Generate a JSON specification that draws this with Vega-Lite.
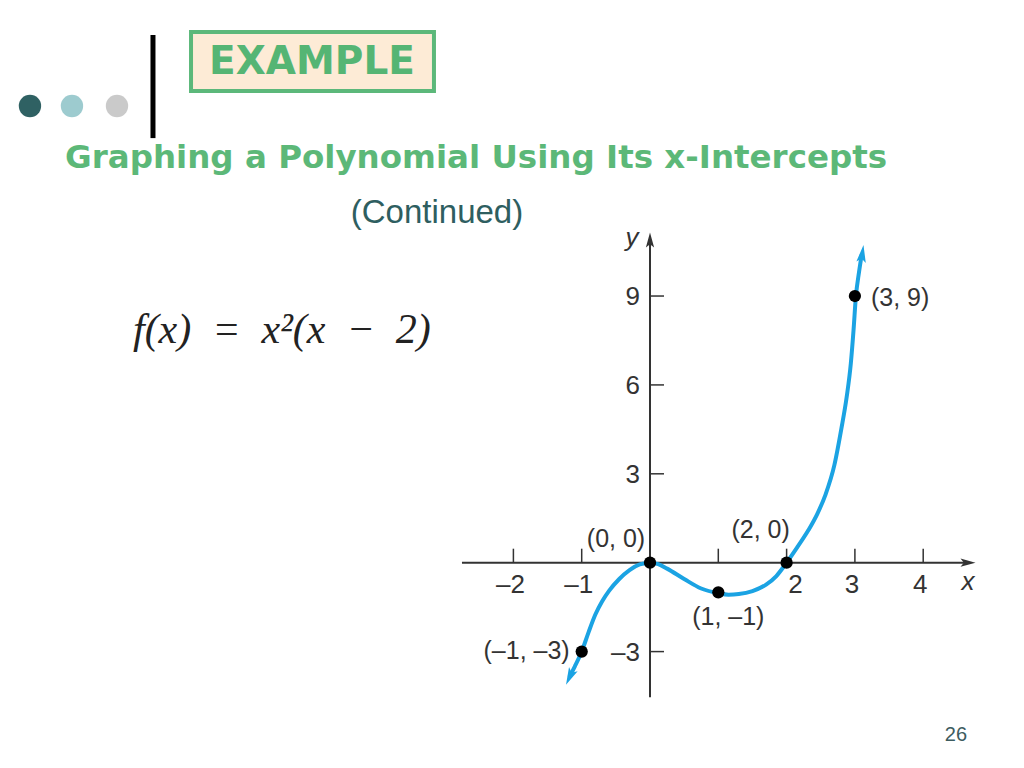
{
  "$schema": "https://vega.github.io/schema/vega-lite/v6.json",
  "description": "Slide: graphing f(x) = x^2(x - 2) using its x-intercepts.",
  "width": 1024,
  "height": 768,
  "autosize": {"type": "fit", "contains": "padding"},
  "padding": 0,
  "background": "white",
  "config": {"view": {"stroke": null}},
  "datasets": {
    "curve": [
      {"x": -1.18, "y": -3.86}, {"x": -1.1, "y": -3.5}, {"x": -1.0, "y": -3.0},
      {"x": -0.9, "y": -2.35}, {"x": -0.8, "y": -1.75}, {"x": -0.7, "y": -1.3},
      {"x": -0.6, "y": -0.95}, {"x": -0.45, "y": -0.55}, {"x": -0.3, "y": -0.25},
      {"x": -0.15, "y": -0.06}, {"x": 0, "y": 0}, {"x": 0.12, "y": -0.05},
      {"x": 0.25, "y": -0.2}, {"x": 0.5, "y": -0.55}, {"x": 0.75, "y": -0.87},
      {"x": 1.0, "y": -1.03}, {"x": 1.15, "y": -1.08}, {"x": 1.3, "y": -1.06},
      {"x": 1.5, "y": -0.96}, {"x": 1.7, "y": -0.74}, {"x": 1.85, "y": -0.45},
      {"x": 2.0, "y": 0}, {"x": 2.15, "y": 0.5}, {"x": 2.32, "y": 1.1},
      {"x": 2.45, "y": 1.65}, {"x": 2.57, "y": 2.3}, {"x": 2.7, "y": 3.3},
      {"x": 2.8, "y": 4.5}, {"x": 2.88, "y": 5.6}, {"x": 2.94, "y": 6.72},
      {"x": 2.98, "y": 7.85}, {"x": 3.015, "y": 9.0}, {"x": 3.06, "y": 9.8},
      {"x": 3.1, "y": 10.4}
    ],
    "pts": [
      {"x": -1, "y": -3, "label": "(–1, –3)"},
      {"x": 0, "y": 0, "label": "(0, 0)"},
      {"x": 1, "y": -1, "label": "(1, –1)"},
      {"x": 2, "y": 0, "label": "(2, 0)"},
      {"x": 3, "y": 9, "label": "(3, 9)"}
    ],
    "xticks": [
      {"v": -2, "lab": "–2"}, {"v": -1, "lab": "–1"}, {"v": 1, "lab": ""},
      {"v": 2, "lab": "2"}, {"v": 3, "lab": "3"}, {"v": 4, "lab": "4"}
    ],
    "yticks": [
      {"v": -3, "lab": "–3"}, {"v": 3, "lab": "3"}, {"v": 6, "lab": "6"}, {"v": 9, "lab": "9"}
    ]
  },
  "layer": [
    {
      "data": {"values": [{}]},
      "mark": {"type": "rect", "fill": "#fdebd6", "stroke": "#5cb87a", "strokeWidth": 4},
      "encoding": {
        "x": {"datum": -6.72, "type": "quantitative", "axis": null, "scale": {"domain": [-9.5168, 5.4758], "nice": false, "zero": false}},
        "x2": {"datum": -3.163},
        "y": {"datum": 17.911, "type": "quantitative", "axis": null, "scale": {"domain": [-6.9288, 18.9909], "nice": false, "zero": false}},
        "y2": {"datum": 15.919}
      }
    },
    {
      "data": {"values": [{"t": "EXAMPLE"}]},
      "mark": {"type": "text", "font": "DejaVu Sans", "fontWeight": "bold", "fontSize": 39, "color": "#55b574", "align": "center", "baseline": "middle"},
      "encoding": {
        "x": {"datum": -4.949, "type": "quantitative", "axis": null},
        "y": {"datum": 16.898, "type": "quantitative", "axis": null},
        "text": {"field": "t"}
      }
    },
    {
      "data": {"values": [{}]},
      "mark": {"type": "rule", "color": "black", "strokeWidth": 5},
      "encoding": {
        "x": {"datum": -7.277, "type": "quantitative", "axis": null},
        "y": {"datum": 17.81, "type": "quantitative", "axis": null},
        "y2": {"datum": 14.33}
      }
    },
    {
      "data": {"values": [{}]},
      "mark": {"type": "point", "filled": true, "opacity": 1, "size": 500, "color": "#2f6163"},
      "encoding": {
        "x": {"datum": -9.078, "type": "quantitative", "axis": null},
        "y": {"datum": 15.413, "type": "quantitative", "axis": null}
      }
    },
    {
      "data": {"values": [{}]},
      "mark": {"type": "point", "filled": true, "opacity": 1, "size": 500, "color": "#9dcbcf"},
      "encoding": {
        "x": {"datum": -8.463, "type": "quantitative", "axis": null},
        "y": {"datum": 15.413, "type": "quantitative", "axis": null}
      }
    },
    {
      "data": {"values": [{}]},
      "mark": {"type": "point", "filled": true, "opacity": 1, "size": 500, "color": "#cacaca"},
      "encoding": {
        "x": {"datum": -7.804, "type": "quantitative", "axis": null},
        "y": {"datum": 15.413, "type": "quantitative", "axis": null}
      }
    },
    {
      "data": {"values": [{"t": "Graphing a Polynomial Using Its x-Intercepts"}]},
      "mark": {"type": "text", "font": "DejaVu Sans", "fontWeight": "bold", "fontSize": 32.5, "color": "#5cb878", "align": "left", "baseline": "middle"},
      "encoding": {
        "x": {"datum": -8.565, "type": "quantitative", "axis": null},
        "y": {"datum": 13.658, "type": "quantitative", "axis": null},
        "text": {"field": "t"}
      }
    },
    {
      "data": {"values": [{"t": "(Continued)"}]},
      "mark": {"type": "text", "font": "Liberation Sans", "fontSize": 33, "color": "#2e5e60", "align": "center", "baseline": "middle"},
      "encoding": {
        "x": {"datum": -3.119, "type": "quantitative", "axis": null},
        "y": {"datum": 11.8, "type": "quantitative", "axis": null},
        "text": {"field": "t"}
      }
    },
    {
      "data": {"values": [{"t": "f(x)\u2002=\u2002x²(x\u2002−\u20022)"}]},
      "mark": {"type": "text", "font": "Liberation Serif", "fontStyle": "italic", "fontSize": 42, "color": "#222222", "align": "left", "baseline": "middle"},
      "encoding": {
        "x": {"datum": -7.57, "type": "quantitative", "axis": null},
        "y": {"datum": 7.853, "type": "quantitative", "axis": null},
        "text": {"field": "t"}
      }
    },
    {
      "data": {"values": [{"t": "26"}]},
      "mark": {"type": "text", "font": "Liberation Sans", "fontSize": 20, "color": "#3d5c60", "align": "center", "baseline": "middle"},
      "encoding": {
        "x": {"datum": 4.48, "type": "quantitative", "axis": null},
        "y": {"datum": -5.814, "type": "quantitative", "axis": null},
        "text": {"field": "t"}
      }
    },
    {
      "data": {"values": [{}]},
      "mark": {"type": "rule", "color": "#333333", "strokeWidth": 2},
      "encoding": {
        "x": {"datum": -2.753, "type": "quantitative", "axis": null},
        "x2": {"datum": 4.62},
        "y": {"datum": 0, "type": "quantitative", "axis": null}
      }
    },
    {
      "data": {"values": [{}]},
      "mark": {"type": "rule", "color": "#333333", "strokeWidth": 2},
      "encoding": {
        "x": {"datum": 0, "type": "quantitative", "axis": null},
        "y": {"datum": -4.54, "type": "quantitative", "axis": null},
        "y2": {"datum": 10.8}
      }
    },
    {
      "data": {"name": "xticks"},
      "mark": {"type": "rule", "color": "#333333", "strokeWidth": 1.5},
      "encoding": {
        "x": {"field": "v", "type": "quantitative", "axis": null},
        "y": {"datum": 0, "type": "quantitative", "axis": null},
        "y2": {"datum": 0.4725}
      }
    },
    {
      "data": {"name": "xticks"},
      "transform": [{"filter": "datum.v != 2"}],
      "mark": {"type": "text", "font": "Liberation Sans", "fontSize": 26, "color": "#333333", "align": "center", "baseline": "middle", "dy": 22, "dx": -3},
      "encoding": {
        "x": {"field": "v", "type": "quantitative", "axis": null},
        "y": {"datum": 0, "type": "quantitative", "axis": null},
        "text": {"field": "lab"}
      }
    },
    {
      "data": {"name": "xticks"},
      "transform": [{"filter": "datum.v == 2"}],
      "mark": {"type": "text", "font": "Liberation Sans", "fontSize": 26, "color": "#333333", "align": "center", "baseline": "middle", "dy": 22, "dx": 9},
      "encoding": {
        "x": {"field": "v", "type": "quantitative", "axis": null},
        "y": {"datum": 0, "type": "quantitative", "axis": null},
        "text": {"field": "lab"}
      }
    },
    {
      "data": {"name": "yticks"},
      "mark": {"type": "rule", "color": "#333333", "strokeWidth": 1.5},
      "encoding": {
        "y": {"field": "v", "type": "quantitative", "axis": null},
        "x": {"datum": 0, "type": "quantitative", "axis": null},
        "x2": {"datum": 0.205}
      }
    },
    {
      "data": {"name": "yticks"},
      "mark": {"type": "text", "font": "Liberation Sans", "fontSize": 26, "color": "#333333", "align": "right", "baseline": "middle", "dx": -10, "dy": 1},
      "encoding": {
        "y": {"field": "v", "type": "quantitative", "axis": null},
        "x": {"datum": 0, "type": "quantitative", "axis": null},
        "text": {"field": "lab"}
      }
    },
    {
      "data": {"values": [{}]},
      "mark": {"type": "point", "shape": "M0,-1L0.55,1L0,0.55L-0.55,1Z", "filled": true, "opacity": 1, "size": 225, "color": "#333333", "angle": 90},
      "encoding": {
        "x": {"datum": 4.656, "type": "quantitative", "axis": null},
        "y": {"datum": 0, "type": "quantitative", "axis": null}
      }
    },
    {
      "data": {"values": [{}]},
      "mark": {"type": "point", "shape": "M0,-1L0.55,1L0,0.55L-0.55,1Z", "filled": true, "opacity": 1, "size": 225, "color": "#333333", "angle": 0},
      "encoding": {
        "x": {"datum": 0, "type": "quantitative", "axis": null},
        "y": {"datum": 10.89, "type": "quantitative", "axis": null}
      }
    },
    {
      "data": {"values": [{"t": "x"}]},
      "mark": {"type": "text", "font": "Liberation Sans", "fontStyle": "italic", "fontSize": 26, "color": "#333333", "align": "center", "baseline": "middle"},
      "encoding": {
        "x": {"datum": 4.656, "type": "quantitative", "axis": null},
        "y": {"datum": -0.651, "type": "quantitative", "axis": null},
        "text": {"field": "t"}
      }
    },
    {
      "data": {"values": [{"t": "y"}]},
      "mark": {"type": "text", "font": "Liberation Sans", "fontStyle": "italic", "fontSize": 26, "color": "#333333", "align": "center", "baseline": "middle"},
      "encoding": {
        "x": {"datum": -0.263, "type": "quantitative", "axis": null},
        "y": {"datum": 10.96, "type": "quantitative", "axis": null},
        "text": {"field": "t"}
      }
    },
    {
      "data": {"name": "curve"},
      "mark": {"type": "line", "color": "#1ba3e3", "strokeWidth": 4, "interpolate": "monotone"},
      "encoding": {
        "x": {"field": "x", "type": "quantitative", "axis": null},
        "y": {"field": "y", "type": "quantitative", "axis": null},
        "order": {"field": "x"}
      }
    },
    {
      "data": {"values": [{}]},
      "mark": {"type": "point", "shape": "M0,-1L0.55,1L0,0.55L-0.55,1Z", "filled": true, "opacity": 1, "size": 300, "color": "#1ba3e3", "angle": 205},
      "encoding": {
        "x": {"datum": -1.176, "type": "quantitative", "axis": null},
        "y": {"datum": -3.857, "type": "quantitative", "axis": null}
      }
    },
    {
      "data": {"values": [{}]},
      "mark": {"type": "point", "shape": "M0,-1L0.55,1L0,0.55L-0.55,1Z", "filled": true, "opacity": 1, "size": 300, "color": "#1ba3e3", "angle": 8},
      "encoding": {
        "x": {"datum": 3.108, "type": "quantitative", "axis": null},
        "y": {"datum": 10.43, "type": "quantitative", "axis": null}
      }
    },
    {
      "data": {"name": "pts"},
      "mark": {"type": "circle", "color": "black", "opacity": 1, "size": 150},
      "encoding": {
        "x": {"field": "x", "type": "quantitative", "axis": null},
        "y": {"field": "y", "type": "quantitative", "axis": null}
      }
    },
    {
      "data": {"name": "pts"},
      "transform": [{"filter": "datum.x == 3"}],
      "mark": {"type": "text", "font": "Liberation Sans", "fontSize": 25, "color": "#333333", "align": "left", "baseline": "middle", "dx": 16, "dy": 2},
      "encoding": {
        "x": {"field": "x", "type": "quantitative", "axis": null},
        "y": {"field": "y", "type": "quantitative", "axis": null},
        "text": {"field": "label"}
      }
    },
    {
      "data": {"name": "pts"},
      "transform": [{"filter": "datum.x == 2"}],
      "mark": {"type": "text", "font": "Liberation Sans", "fontSize": 25, "color": "#333333", "align": "center", "baseline": "middle", "dx": -26, "dy": -33},
      "encoding": {
        "x": {"field": "x", "type": "quantitative", "axis": null},
        "y": {"field": "y", "type": "quantitative", "axis": null},
        "text": {"field": "label"}
      }
    },
    {
      "data": {"name": "pts"},
      "transform": [{"filter": "datum.x == 0"}],
      "mark": {"type": "text", "font": "Liberation Sans", "fontSize": 25, "color": "#333333", "align": "center", "baseline": "middle", "dx": -34, "dy": -24},
      "encoding": {
        "x": {"field": "x", "type": "quantitative", "axis": null},
        "y": {"field": "y", "type": "quantitative", "axis": null},
        "text": {"field": "label"}
      }
    },
    {
      "data": {"name": "pts"},
      "transform": [{"filter": "datum.x == 1"}],
      "mark": {"type": "text", "font": "Liberation Sans", "fontSize": 25, "color": "#333333", "align": "center", "baseline": "middle", "dx": 10, "dy": 25},
      "encoding": {
        "x": {"field": "x", "type": "quantitative", "axis": null},
        "y": {"field": "y", "type": "quantitative", "axis": null},
        "text": {"field": "label"}
      }
    },
    {
      "data": {"name": "pts"},
      "transform": [{"filter": "datum.x == -1"}],
      "mark": {"type": "text", "font": "Liberation Sans", "fontSize": 25, "color": "#333333", "align": "right", "baseline": "middle", "dx": -12, "dy": -1},
      "encoding": {
        "x": {"field": "x", "type": "quantitative", "axis": null},
        "y": {"field": "y", "type": "quantitative", "axis": null},
        "text": {"field": "label"}
      }
    }
  ]
}
